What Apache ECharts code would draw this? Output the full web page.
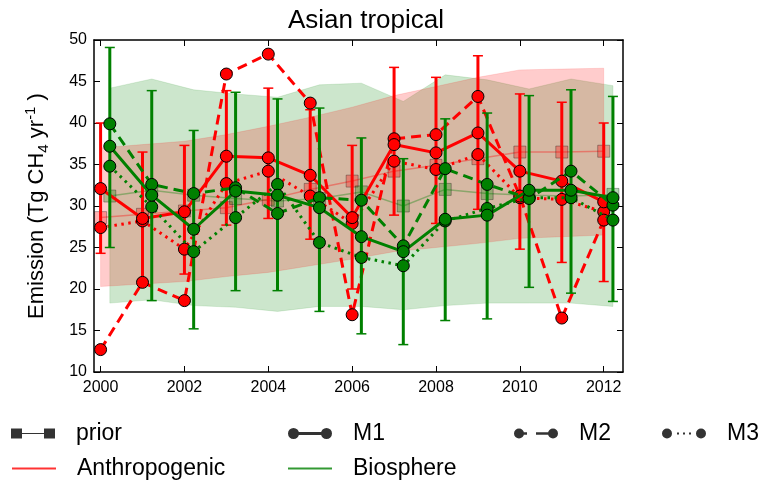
<!DOCTYPE html>
<html>
<head>
<meta charset="utf-8">
<title>Asian tropical</title>
<script src="https://cdn.jsdelivr.net/npm/echarts@6/dist/echarts.min.js"></script>
<style>
  html, body { margin: 0; padding: 0; background: #fff; }
  #chart { width: 760px; height: 482px; }
</style>
</head>
<body>
<div id="chart"></div>
<script>
// data
const years = [2000, 2001, 2002, 2003, 2004, 2005, 2006, 2007, 2008, 2009, 2010, 2011, 2012];
const xTickYears = [2000, 2002, 2004, 2006, 2008, 2010, 2012];

// Anthropogenic (red)
const anthPrior     = [28.6, 29.0, 29.4, 29.8, 30.8, 32.0, 33.0, 34.2, 34.9, 35.7, 36.5, 36.5, 36.6];
const anthPriorLow  = [20.3, 20.6, 20.9, 21.5, 22.0, 22.8, 23.6, 24.5, 25.0, 25.5, 26.1, 26.3, 26.5];
const anthPriorHigh = [37.0, 37.4, 37.8, 38.6, 39.6, 40.7, 41.9, 43.3, 44.4, 45.5, 46.4, 46.5, 46.6];
const anthM1        = [32.1, 28.5, 29.3, 36.0, 35.8, 33.7, 28.6, 37.4, 36.4, 38.8, 34.2, 33.0, 30.5];
const anthM1Low     = [24.3, 20.7, 21.8, 27.7, 28.5, 26.0, 20.0, 28.9, 27.9, 29.6, 24.8, 23.2, 20.9];
const anthM1High    = [40.0, 36.5, 37.3, 43.9, 44.2, 41.6, 37.3, 46.7, 45.5, 48.1, 43.5, 42.5, 40.0];
const anthM2        = [12.7, 20.8, 18.6, 45.9, 48.3, 42.4, 16.9, 38.1, 38.6, 43.2, 31.2, 16.5, 28.3];
const anthM3        = [27.4, 28.2, 24.8, 32.7, 34.2, 31.2, 27.9, 35.4, 34.4, 36.2, 31.0, 30.8, 29.3];

// Biosphere (green)
const bioPrior      = [31.2, 31.9, 31.3, 30.9, 30.6, 30.9, 31.7, 30.0, 32.0, 31.5, 31.3, 31.2, 31.4];
const bioPriorLow   = [18.3, 18.7, 18.0, 17.8, 17.3, 17.9, 17.9, 17.5, 18.0, 18.3, 18.3, 18.3, 17.9];
const bioPriorHigh  = [44.2, 45.3, 44.0, 43.5, 43.1, 44.6, 44.8, 42.6, 45.8, 45.2, 44.1, 45.3, 44.5];
const bioM1         = [37.2, 31.3, 27.2, 31.8, 31.3, 29.8, 26.3, 24.5, 28.4, 28.9, 31.9, 31.9, 31.0];
const bioM1Low      = [25.0, 18.6, 15.2, 19.8, 19.8, 17.3, 14.6, 13.3, 16.2, 16.4, 20.2, 19.5, 18.5];
const bioM1High     = [49.1, 43.9, 39.1, 43.7, 42.9, 41.8, 38.2, 35.7, 40.5, 41.2, 43.3, 44.0, 43.2];
const bioM2         = [39.9, 32.6, 31.5, 32.2, 29.1, 31.0, 30.7, 25.2, 34.5, 32.6, 30.9, 34.2, 30.1];
const bioM3         = [34.8, 29.9, 24.5, 28.6, 32.6, 25.6, 23.8, 22.8, 28.2, 29.7, 31.0, 31.0, 28.3];

const RED = '#ff0000';
const GREEN = '#008000';
const BIO_SHIFT = 0.22; // biosphere points are drawn a little to the right of each year
const FONT = 'Liberation Sans';

const chart = echarts.init(document.getElementById('chart'));

const pts = (shift, vals) => years.map((y, i) => [y + shift, vals[i]]);
const ranges = (shift, lo, hi) => years.map((y, i) => [y + shift, lo[i], hi[i]]);

// shaded prior uncertainty, one polygon for the whole series
function bandItem(fill, edge) {
  return function (params, api) {
    if (params.dataIndex !== 0) return;
    const top = [], bot = [];
    for (let i = 0; i < params.dataInsideLength; i++) {
      top.push(api.coord([api.value(0, i), api.value(2, i)]));
      bot.push(api.coord([api.value(0, i), api.value(1, i)]));
    }
    return {
      type: 'polygon',
      shape: { points: top.concat(bot.reverse()) },
      style: { fill: fill, stroke: edge, lineWidth: 1 }
    };
  };
}

// vertical error bar with caps
function errorItem(color) {
  return function (params, api) {
    const x = api.value(0);
    const lo = api.coord([x, api.value(1)]);
    const hi = api.coord([x, api.value(2)]);
    const hw = 5;
    const cap = { stroke: color, lineWidth: 1.5 };
    return {
      type: 'group',
      children: [
        { type: 'line', shape: { x1: lo[0], y1: lo[1], x2: hi[0], y2: hi[1] }, style: { stroke: color, lineWidth: 3 } },
        { type: 'line', shape: { x1: hi[0] - hw, y1: hi[1], x2: hi[0] + hw, y2: hi[1] }, style: cap },
        { type: 'line', shape: { x1: lo[0] - hw, y1: lo[1], x2: lo[0] + hw, y2: lo[1] }, style: cap }
      ]
    };
  };
}

function priorLine(name, data, color, z) {
  return {
    name: name, type: 'line', data: data, z: z,
    symbol: 'rect', symbolSize: 12,
    lineStyle: { color: color, width: 1.5, opacity: 0.35 },
    itemStyle: { color: color, opacity: 0.3, borderColor: '#000', borderWidth: 1 }
  };
}

function estLine(name, data, color, dash, z) {
  return {
    name: name, type: 'line', data: data, z: z,
    symbol: 'circle', symbolSize: 12,
    lineStyle: { color: color, width: 3, type: dash, cap: 'butt' },
    itemStyle: { color: color, borderColor: '#000', borderWidth: 1 }
  };
}

const DASH = [10, 6];
const DOT = [2.5, 4.5];

// legend icons, drawn in a 44x12 box
const ICON_PRIOR = 'path://M0,1h11v10h-11zM11,5.4h22v1.2h-22zM33,1h11v10h-11z';
const ICON_M1 = 'path://M0,6a5.5,5.5 0 1,1 11,0a5.5,5.5 0 1,1 -11,0zM10,4.5h24v3h-24zM33,6a5.5,5.5 0 1,1 11,0a5.5,5.5 0 1,1 -11,0z';
const ICON_M2 = 'path://M0,6a5,5 0 1,1 10,0a5,5 0 1,1 -10,0zM9,4.7h4v2.6h-4zM22,4.7h13v2.6h-13zM34,6a5,5 0 1,1 10,0a5,5 0 1,1 -10,0z';
const ICON_M3 = 'path://M0,6a5,5 0 1,1 10,0a5,5 0 1,1 -10,0zM15,5h2v2h-2zM21,5h2v2h-2zM27,5h2v2h-2zM34,6a5,5 0 1,1 10,0a5,5 0 1,1 -10,0z';
const ICON_LINE = 'path://M0,5h44v2h-44z';

function legendAt(left, top, name, icon) {
  return {
    left: left, top: top, padding: 0,
    itemWidth: 44, itemHeight: 12,
    selectedMode: false,
    data: [{ name: name, icon: icon }],
    textStyle: { fontFamily: FONT, fontSize: 23, color: '#000', padding: [0, 0, 0, 16] }
  };
}

const axisCommon = {
  axisLine: { lineStyle: { color: '#000', width: 1.5 } },
  axisTick: { inside: true, length: 6, lineStyle: { color: '#000', width: 1 } },
  splitLine: { show: false }
};

const option = {
  animation: false,
  backgroundColor: '#fff',
  title: {
    text: 'Asian tropical',
    left: 361, top: 3, textAlign: 'center',
    textStyle: { fontFamily: FONT, fontSize: 26, fontWeight: 'normal', color: '#000' }
  },
  grid: { left: 94, right: 137, top: 40, bottom: 110 },
  legend: [
    legendAt(11, 422, 'prior', ICON_PRIOR),
    legendAt(288, 422, 'M1', ICON_M1),
    legendAt(514, 422, 'M2', ICON_M2),
    legendAt(662, 422, 'M3', ICON_M3),
    legendAt(12, 457, 'Anthropogenic', ICON_LINE),
    legendAt(288, 457, 'Biosphere', ICON_LINE)
  ],
  xAxis: [
    Object.assign({}, axisCommon, {
      type: 'value', min: 1999.843, max: 2012.46,
      axisTick: Object.assign({}, axisCommon.axisTick, { customValues: xTickYears }),
      axisLabel: { customValues: xTickYears, formatter: v => String(v), fontFamily: FONT, fontSize: 16, color: '#000', margin: 8 }
    }),
    Object.assign({}, axisCommon, {
      type: 'value', min: 1999.843, max: 2012.46, position: 'top',
      axisTick: Object.assign({}, axisCommon.axisTick, { customValues: xTickYears }),
      axisLabel: { show: false }
    })
  ],
  yAxis: [
    Object.assign({}, axisCommon, {
      type: 'value', min: 10, max: 50, interval: 5,
      name: 'Emission (Tg CH{sub|4} yr{sup|-1} )',
      nameLocation: 'middle', nameGap: 43,
      nameTextStyle: {
        fontFamily: FONT, fontSize: 22, color: '#000', lineHeight: 28,
        rich: {
          sub: { fontFamily: FONT, fontSize: 15, color: '#000', verticalAlign: 'bottom', lineHeight: 28 },
          sup: { fontFamily: FONT, fontSize: 15, color: '#000', verticalAlign: 'top', lineHeight: 28 }
        }
      },
      axisLabel: { fontFamily: FONT, fontSize: 16, color: '#000', margin: 7 }
    }),
    Object.assign({}, axisCommon, {
      type: 'value', min: 10, max: 50, interval: 5, position: 'right',
      axisLabel: { show: false }
    })
  ],
  series: [
    // prior uncertainty bands
    {
      name: 'bioBand', type: 'custom', z: 1, silent: true,
      renderItem: bandItem('rgba(0,128,0,0.2)', 'rgba(0,128,0,0.12)'),
      encode: { x: 0, y: [1, 2] },
      data: ranges(BIO_SHIFT, bioPriorLow, bioPriorHigh)
    },
    {
      name: 'anthBand', type: 'custom', z: 1, silent: true,
      renderItem: bandItem('rgba(255,0,0,0.2)', 'rgba(255,0,0,0.12)'),
      encode: { x: 0, y: [1, 2] },
      data: ranges(0, anthPriorLow, anthPriorHigh)
    },
    priorLine('anthPrior', pts(0, anthPrior), RED, 2),
    priorLine('bioPrior', pts(BIO_SHIFT, bioPrior), GREEN, 2),
    // anthropogenic estimates
    {
      name: 'anthErr', type: 'custom', z: 3, silent: true,
      renderItem: errorItem(RED),
      encode: { x: 0, y: [1, 2] },
      data: ranges(0, anthM1Low, anthM1High)
    },
    estLine('anthM3', pts(0, anthM3), RED, DOT, 4),
    estLine('anthM2', pts(0, anthM2), RED, DASH, 4),
    estLine('anthM1', pts(0, anthM1), RED, 'solid', 4),
    // biosphere estimates
    {
      name: 'bioErr', type: 'custom', z: 5, silent: true,
      renderItem: errorItem(GREEN),
      encode: { x: 0, y: [1, 2] },
      data: ranges(BIO_SHIFT, bioM1Low, bioM1High)
    },
    estLine('bioM3', pts(BIO_SHIFT, bioM3), GREEN, DOT, 6),
    estLine('bioM2', pts(BIO_SHIFT, bioM2), GREEN, DASH, 6),
    estLine('bioM1', pts(BIO_SHIFT, bioM1), GREEN, 'solid', 6),
    // legend-only entries
    { name: 'prior', type: 'scatter', data: [], itemStyle: { color: '#000' } },
    { name: 'M1', type: 'scatter', data: [], itemStyle: { color: '#000' } },
    { name: 'M2', type: 'scatter', data: [], itemStyle: { color: '#000' } },
    { name: 'M3', type: 'scatter', data: [], itemStyle: { color: '#000' } },
    { name: 'Anthropogenic', type: 'scatter', data: [], itemStyle: { color: RED } },
    { name: 'Biosphere', type: 'scatter', data: [], itemStyle: { color: GREEN } }
  ]
};

chart.setOption(option);
window.addEventListener('resize', () => chart.resize());
</script>
</body>
</html>
